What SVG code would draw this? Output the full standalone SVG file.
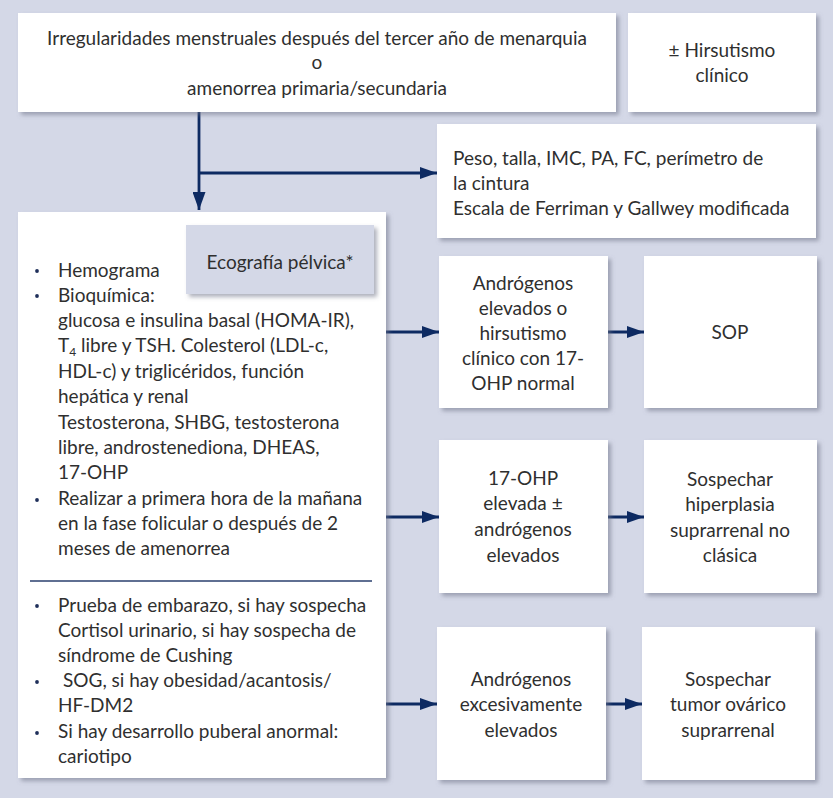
<svg xmlns="http://www.w3.org/2000/svg" width="833" height="798" viewBox="0 0 833 798">
  <defs>
    <filter id="shadow" x="-10%" y="-10%" width="130%" height="130%">
      <feDropShadow dx="3" dy="3" stdDeviation="2.2" flood-color="#6c7186" flood-opacity="0.55"/>
    </filter>
    <marker id="arrow" markerWidth="17" markerHeight="12" refX="17" refY="6" orient="auto" markerUnits="userSpaceOnUse">
      <path d="M0,0 L17,6 L0,12 Z" fill="#0d2a62"/>
    </marker>
    <marker id="arrowDown" markerWidth="13" markerHeight="18" refX="6.5" refY="18" orient="0" markerUnits="userSpaceOnUse">
      <path d="M0,0 L13,0 L6.5,18 Z" fill="#0d2a62"/>
    </marker>
  </defs>
  <style>
    .box { fill: #ffffff; filter: url(#shadow); }
    .tag { fill: #d4d8e7; filter: url(#shadow); }
    text { font-family: Lato, "Noto Sans", "Liberation Sans", sans-serif; font-size: 19px; fill: #2f2f2f; }
    .c { text-anchor: middle; }
    .link { stroke: #0d2a62; stroke-width: 2.8; fill: none; }
    .bullet { fill: #1f2f5a; }
  </style>

  <!-- page background -->
  <rect x="0" y="0" width="833" height="798" fill="#d4d8e7"/>

  <!-- connectors -->
  <g id="connectors">
    <path class="link" d="M199,112 V210" marker-end="url(#arrowDown)"/>
    <path class="link" d="M199,173 H437" marker-end="url(#arrow)"/>
    <path class="link" d="M386,332 H439" marker-end="url(#arrow)"/>
    <path class="link" d="M608,332 H644" marker-end="url(#arrow)"/>
    <path class="link" d="M386,517 H439" marker-end="url(#arrow)"/>
    <path class="link" d="M608,517 H644" marker-end="url(#arrow)"/>
    <path class="link" d="M386,704 H437" marker-end="url(#arrow)"/>
    <path class="link" d="M606,704 H642" marker-end="url(#arrow)"/>
  </g>

  <!-- entry criteria -->
  <g id="inicio">
    <rect class="box" x="18" y="13" width="598" height="99"/>
    <text class="c" x="317" y="45">Irregularidades menstruales después del tercer año de menarquia</text>
    <text class="c" x="317" y="69">o</text>
    <text class="c" x="317" y="95">amenorrea primaria/secundaria</text>
  </g>

  <g id="hirsutismo">
    <rect class="box" x="628" y="13" width="188" height="99"/>
    <text class="c" x="722" y="57">± Hirsutismo</text>
    <text class="c" x="722" y="82">clínico</text>
  </g>

  <g id="exploracion">
    <rect class="box" x="437" y="124" width="379" height="114"/>
    <text x="453" y="165">Peso, talla, IMC, PA, FC, perímetro de</text>
    <text x="453" y="190">la cintura</text>
    <text x="453" y="215">Escala de Ferriman y Gallwey modificada</text>
  </g>

  <!-- laboratory work-up -->
  <g id="pruebas">
    <rect class="box" x="18" y="212" width="368" height="566"/>
    <circle class="bullet" cx="37" cy="271" r="1.9"/>
    <circle class="bullet" cx="37" cy="296" r="1.9"/>
    <circle class="bullet" cx="37" cy="500" r="1.9"/>
    <text x="58" y="277">Hemograma</text>
    <text x="58" y="302">Bioquímica:</text>
    <text x="58" y="327">glucosa e insulina basal (HOMA-IR),</text>
    <text x="58" y="352">T<tspan font-size="12" dy="4">4</tspan><tspan dy="-4"> libre y TSH. Colesterol (LDL-c,</tspan></text>
    <text x="58" y="378">HDL-c) y triglicéridos, función</text>
    <text x="58" y="403">hepática y renal</text>
    <text x="58" y="429">Testosterona, SHBG, testosterona</text>
    <text x="58" y="454">libre, androstenediona, DHEAS,</text>
    <text x="58" y="479">17-OHP</text>
    <text x="58" y="505">Realizar a primera hora de la mañana</text>
    <text x="58" y="530">en la fase folicular o después de 2</text>
    <text x="58" y="555">meses de amenorrea</text>
    <line x1="30" y1="581" x2="372" y2="581" stroke="#2a3f6e" stroke-width="1.4"/>
    <circle class="bullet" cx="37" cy="606" r="1.9"/>
    <circle class="bullet" cx="37" cy="682" r="1.9"/>
    <circle class="bullet" cx="37" cy="733" r="1.9"/>
    <text x="58" y="612">Prueba de embarazo, si hay sospecha</text>
    <text x="58" y="637">Cortisol urinario, si hay sospecha de</text>
    <text x="58" y="662">síndrome de Cushing</text>
    <text x="63" y="687">SOG, si hay obesidad/acantosis/</text>
    <text x="58" y="712">HF-DM2</text>
    <text x="58" y="738">Si hay desarrollo puberal anormal:</text>
    <text x="58" y="763">cariotipo</text>
  </g>

  <g id="ecografia">
    <rect class="tag" x="186" y="225" width="188" height="69"/>
    <text class="c" x="280" y="269">Ecografía pélvica*</text>
  </g>

  <!-- results and suspected diagnoses -->
  <g id="androgenos-elevados">
    <rect class="box" x="439" y="256" width="169" height="152"/>
    <text class="c" x="523" y="290">Andrógenos</text>
    <text class="c" x="523" y="315">elevados o</text>
    <text class="c" x="523" y="340">hirsutismo</text>
    <text class="c" x="523" y="365">clínico con 17-</text>
    <text class="c" x="523" y="390">OHP normal</text>
  </g>

  <g id="sop">
    <rect class="box" x="644" y="256" width="173" height="152"/>
    <text class="c" x="730" y="339">SOP</text>
  </g>

  <g id="ohp-elevada">
    <rect class="box" x="439" y="440" width="169" height="153"/>
    <text class="c" x="523" y="485">17-OHP</text>
    <text class="c" x="523" y="510">elevada ±</text>
    <text class="c" x="523" y="536">andrógenos</text>
    <text class="c" x="523" y="562">elevados</text>
  </g>

  <g id="hiperplasia">
    <rect class="box" x="644" y="440" width="173" height="153"/>
    <text class="c" x="730" y="486">Sospechar</text>
    <text class="c" x="730" y="511">hiperplasia</text>
    <text class="c" x="730" y="537">suprarrenal no</text>
    <text class="c" x="730" y="562">clásica</text>
  </g>

  <g id="androgenos-excesivos">
    <rect class="box" x="437" y="627" width="169" height="153"/>
    <text class="c" x="521" y="686">Andrógenos</text>
    <text class="c" x="521" y="711">excesivamente</text>
    <text class="c" x="521" y="737">elevados</text>
  </g>

  <g id="tumor">
    <rect class="box" x="642" y="627" width="173" height="153"/>
    <text class="c" x="728" y="686">Sospechar</text>
    <text class="c" x="728" y="711">tumor ovárico</text>
    <text class="c" x="728" y="737">suprarrenal</text>
  </g>
</svg>
